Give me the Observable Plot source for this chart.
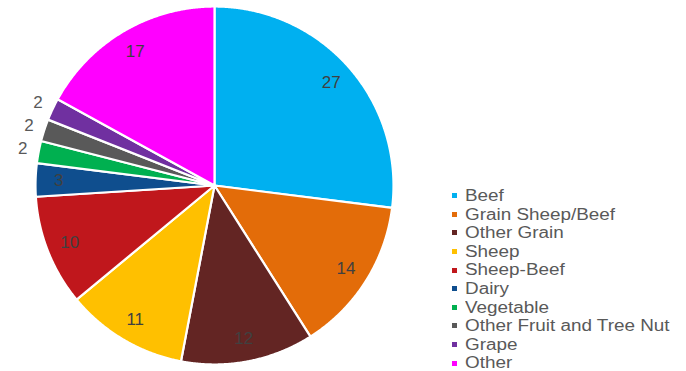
<!DOCTYPE html>
<html><head><meta charset="utf-8">
<script src="https://cdn.jsdelivr.net/npm/d3@7"></script>
<script src="https://cdn.jsdelivr.net/npm/@observablehq/plot@0.6"></script>
<style>
body{margin:0;background:#fff;}
#wrap{position:relative;width:686px;height:371px;overflow:hidden;}
#legend{position:absolute;left:452px;top:187px;font-family:"Liberation Sans",Arial,sans-serif;font-size:16px;color:#595959;line-height:18.6px;white-space:nowrap;}
#legend .sw{display:inline-block;width:5px;height:5px;margin-right:8px;vertical-align:middle;position:relative;top:-1px;}
#legend .tx{display:inline-block;transform:scaleX(1.18);transform-origin:0 50%;}
</style></head><body><div id="wrap"></div>
<script>
const categories = ["Beef","Grain Sheep/Beef","Other Grain","Sheep","Sheep-Beef","Dairy","Vegetable","Other Fruit and Tree Nut","Grape","Other"];
const values = [27,14,12,11,10,3,2,2,2,17];
const colors = ["#00B0F0","#E36C09","#632523","#FFC000","#C0171C","#0F4E8E","#00B050","#595959","#7030A0","#FF00FF"];

const arcs = d3.pie().sort(null).value(d => d)(values);
const features = arcs.map((a, i) => {
  const ring = [[0, 0]];
  const n = Math.max(8, Math.ceil((a.endAngle - a.startAngle) / 0.005));
  for (let k = 0; k <= n; k++) {
    const t = a.startAngle + (a.endAngle - a.startAngle) * k / n;
    ring.push([Math.sin(t), -Math.cos(t)]);
  }
  ring.push([0, 0]);
  return {type: "Feature", properties: {name: categories[i], value: values[i]}, geometry: {type: "Polygon", coordinates: [ring]}};
});
const labels = arcs.map((a, i) => {
  const m = (a.startAngle + a.endAngle) / 2;
  const outside = values[i] < 3;
  const r = outside ? 1.09 : 0.87;
  return {x: r * Math.sin(m), y: -r * Math.cos(m), text: String(values[i]), outside};
});

const W = 686, H = 371, R = 179, cx = 214, cy = 185;
const frame = {type: "LineString", coordinates: [[-cx / R, -cy / R], [(W - cx) / R, (H - cy) / R]]};

const chart = Plot.plot({
  width: W, height: H, margin: 0,
  projection: {type: "identity", domain: frame},
  color: {domain: categories, range: colors},
  marks: [
    Plot.geo(features, {fill: d => d.properties.name, stroke: "white", strokeWidth: 2.2, strokeLinejoin: "round"}),
    Plot.text(labels.filter(d => !d.outside), {x: "x", y: "y", text: "text", fill: "#404040", fontSize: 17, fontFamily: "Liberation Sans, Arial, sans-serif"}),
    Plot.text(labels.filter(d => d.outside), {x: "x", y: "y", text: "text", fill: "#595959", fontSize: 17, fontFamily: "Liberation Sans, Arial, sans-serif"})
  ]
});
const wrap = document.getElementById("wrap");
wrap.appendChild(chart);
const leg = document.createElement("div");
leg.id = "legend";
leg.innerHTML = categories.map((c, i) => `<div><span class="sw" style="background:${colors[i]}"></span><span class="tx">${c}</span></div>`).join("");
wrap.appendChild(leg);
</script></body></html>
